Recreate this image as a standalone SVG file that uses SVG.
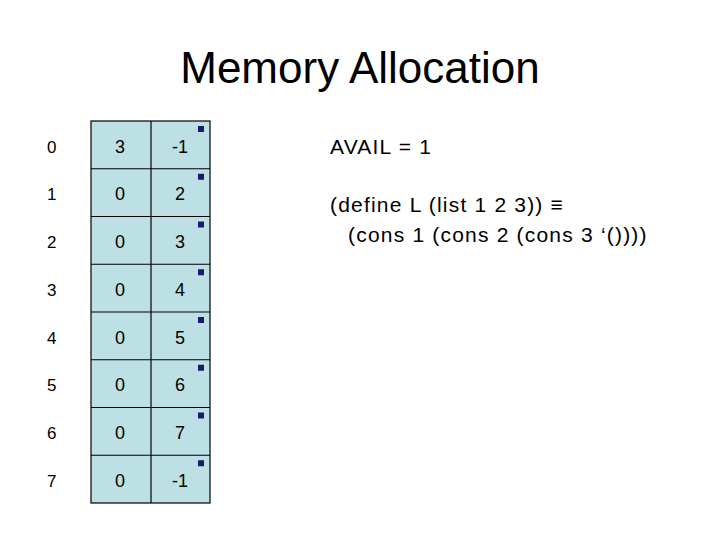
<svg xmlns="http://www.w3.org/2000/svg" width="720" height="540" viewBox="0 0 720 540">
<style>
text{font-family:"Liberation Sans",Arial,sans-serif;fill:#000}
.c{fill:#bde0e4;stroke:#000;stroke-width:1.2}
.t{font-size:18px;text-anchor:middle}
.i{font-size:17px}
.b{fill:#1a1a6e}
.r{font-size:21px;letter-spacing:1.2px}
</style>
<rect width="720" height="540" fill="#fff"/>
<text x="360" y="83" font-size="44" text-anchor="middle">Memory Allocation</text>
<g id="table">
<rect class="c" x="91" y="121" width="119" height="382"/>
<g stroke="#000" stroke-width="1.2">
<line x1="151" y1="121" x2="151" y2="503"/>
<line x1="91" y1="168.75" x2="210" y2="168.75"/><line x1="91" y1="216.5" x2="210" y2="216.5"/>
<line x1="91" y1="264.25" x2="210" y2="264.25"/><line x1="91" y1="312" x2="210" y2="312"/>
<line x1="91" y1="359.75" x2="210" y2="359.75"/><line x1="91" y1="407.5" x2="210" y2="407.5"/>
<line x1="91" y1="455.25" x2="210" y2="455.25"/>
</g>
<g class="b">
<rect x="198" y="126" width="6" height="6"/><rect x="198" y="173.75" width="6" height="6"/>
<rect x="198" y="221.5" width="6" height="6"/><rect x="198" y="269.25" width="6" height="6"/>
<rect x="198" y="317" width="6" height="6"/><rect x="198" y="364.75" width="6" height="6"/>
<rect x="198" y="412.5" width="6" height="6"/><rect x="198" y="460.25" width="6" height="6"/>
</g>
<g class="t">
<text x="120" y="153">3</text><text x="180" y="153">-1</text>
<text x="120" y="200">0</text><text x="180" y="200">2</text>
<text x="120" y="248">0</text><text x="180" y="248">3</text>
<text x="120" y="296">0</text><text x="180" y="296">4</text>
<text x="120" y="344">0</text><text x="180" y="344">5</text>
<text x="120" y="391">0</text><text x="180" y="391">6</text>
<text x="120" y="439">0</text><text x="180" y="439">7</text>
<text x="120" y="487">0</text><text x="180" y="487">-1</text>
</g>
<g class="i">
<text x="47" y="153">0</text><text x="47" y="200">1</text><text x="47" y="248">2</text><text x="47" y="296">3</text>
<text x="47" y="344">4</text><text x="47" y="391">5</text><text x="47" y="439">6</text><text x="47" y="487">7</text>
</g>
</g>
<text class="r" x="330" y="154">AVAIL = 1</text>
<text class="r" x="330" y="212">(define L (list 1 2 3)) ≡</text>
<text class="r" x="348" y="242">(cons 1 (cons 2 (cons 3 ‘())))</text>
</svg>
